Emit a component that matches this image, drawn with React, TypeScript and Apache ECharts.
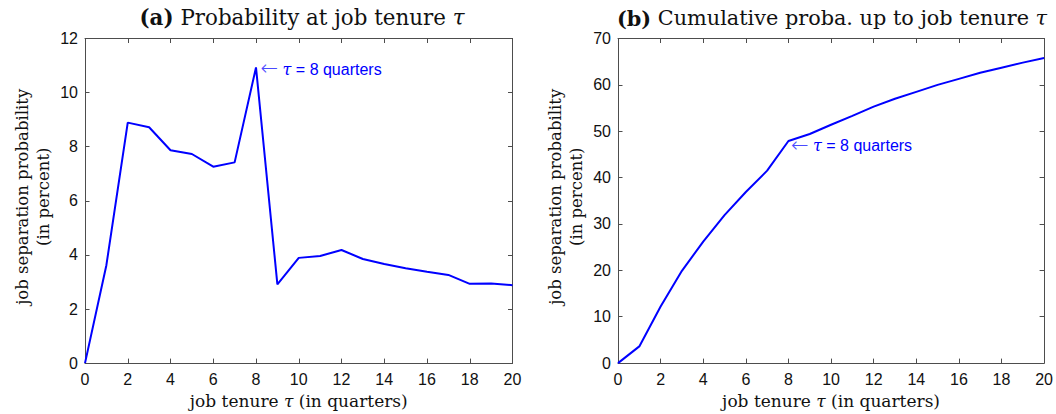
import React, { useEffect, useRef } from 'react';
import * as echarts from 'echarts';

// job tenure in quarters
const tenure = [0, 1, 2, 3, 4, 5, 6, 7, 8, 9, 10, 11, 12, 13, 14, 15, 16, 17, 18, 19, 20];
// (a) job separation probability at tenure (percent)
const sepProb = [0, 3.62, 8.89, 8.72, 7.87, 7.73, 7.26, 7.42, 10.93, 2.91, 3.89, 3.96, 4.18, 3.85, 3.66, 3.51, 3.38, 3.26, 2.93, 2.94, 2.88];
// (b) cumulative separation probability up to tenure (percent)
const cumProb = [0, 3.6, 12.2, 19.9, 26.2, 31.9, 36.9, 41.5, 47.9, 49.4, 51.4, 53.3, 55.3, 57.0, 58.5, 60.0, 61.3, 62.6, 63.7, 64.8, 65.8];

const titles = ['{b|(a)} Probability at job tenure {i|τ}', '{b|(b)} Cumulative proba. up to job tenure {i|τ}'];
const yName = 'job separation probability\n(in percent)';
const xName = 'job tenure {i|τ} (in quarters)';
const annotation = '{a|←} {i|τ} = 8 quarters';
const markIndex = 8;

const serif = 'DejaVu Serif';
const sans = 'Liberation Sans';
const axisColor = '#4d4d4d';
const textColor = '#111111';
const lineColor = '#0000ff';

const tickStyle = { show: true, inside: true, length: 4.5, lineStyle: { color: axisColor, width: 1 } };
const lineStyleAxis = { show: true, onZero: false, lineStyle: { color: axisColor, width: 1 } };

function makeXAxes(gridIndex: number) {
  return [
    {
      type: 'value', gridIndex, min: 0, max: 20, interval: 2, position: 'bottom',
      name: xName, nameLocation: 'middle', nameGap: 28,
      nameTextStyle: {
        fontFamily: serif, fontSize: 17, color: textColor,
        rich: { i: { fontFamily: serif, fontSize: 17, fontStyle: 'italic', color: textColor } },
      },
      axisLine: lineStyleAxis, axisTick: tickStyle, splitLine: { show: false },
      axisLabel: { fontFamily: sans, fontSize: 16, color: textColor, margin: 8 },
    },
    {
      type: 'value', gridIndex, min: 0, max: 20, interval: 2, position: 'top',
      axisLine: lineStyleAxis, axisTick: tickStyle, splitLine: { show: false },
      axisLabel: { show: false },
    },
  ];
}

function makeYAxes(gridIndex: number, max: number, interval: number) {
  return [
    {
      type: 'value', gridIndex, min: 0, max, interval, position: 'left',
      name: yName, nameLocation: 'middle', nameRotate: 90, nameGap: 31,
      nameTextStyle: { fontFamily: serif, fontSize: 16.5, color: textColor, lineHeight: 21, padding: [0, 0, 0, 8] },
      axisLine: lineStyleAxis, axisTick: tickStyle, splitLine: { show: false },
      axisLabel: { fontFamily: sans, fontSize: 16, color: textColor, margin: 7 },
    },
    {
      type: 'value', gridIndex, min: 0, max, interval, position: 'right',
      axisLine: lineStyleAxis, axisTick: tickStyle, splitLine: { show: false },
      axisLabel: { show: false },
    },
  ];
}

function makeSeries(idx: number, values: number[], offset: number[], distance: number) {
  return {
    type: 'line',
    xAxisIndex: idx * 2,
    yAxisIndex: idx * 2,
    data: tenure.map((t, i) => [t, values[i]]),
    showSymbol: false,
    symbol: 'none',
    lineStyle: { color: lineColor, width: 2 },
    z: 3,
    markPoint: {
      symbol: 'circle',
      symbolSize: 1,
      itemStyle: { color: 'rgba(0,0,0,0)' },
      data: [{ coord: [tenure[markIndex], values[markIndex]] }],
      label: {
        show: true,
        position: 'right',
        distance,
        offset,
        formatter: annotation,
        fontFamily: sans,
        fontSize: 16,
        color: lineColor,
        align: 'left',
        verticalAlign: 'middle',
        rich: {
          i: { fontFamily: serif, fontStyle: 'italic', fontSize: 16, color: lineColor },
          a: { fontFamily: 'DejaVu Sans', fontSize: 21, fontWeight: 200, color: '#4a4aff', padding: [0, 0, 2, 0] },
        },
      },
    },
  };
}

function titleStyle(fs: number) {
  return {
    fontFamily: serif, fontSize: fs, fontWeight: 'normal', color: textColor,
    rich: {
      b: { fontFamily: serif, fontSize: fs, fontWeight: 'bold', color: textColor },
      i: { fontFamily: serif, fontSize: fs, fontStyle: 'italic', color: textColor },
    },
  };
}

export default function App() {
  const ref = useRef<HTMLDivElement>(null);
  useEffect(() => {
    document.body.style.margin = '0';
    const chart = echarts.init(ref.current!, undefined, { renderer: 'svg' });
    chart.setOption({
      animation: false,
      backgroundColor: '#ffffff',
      title: [
        { text: titles[0], left: 297, top: 2, textAlign: 'center', textStyle: titleStyle(21.4) },
        { text: titles[1], left: 827, top: 2.5, textAlign: 'center', textStyle: titleStyle(20.8) },
      ],
      grid: [
        { left: 85, top: 38.5, width: 427.5, height: 325 },
        { left: 618, top: 38.5, width: 427, height: 325 },
      ],
      xAxis: [...makeXAxes(0), ...makeXAxes(1)],
      yAxis: [...makeYAxes(0, 12, 2), ...makeYAxes(1, 70, 10)],
      series: [
        makeSeries(0, sepProb, [0, 2], 4),
        makeSeries(1, cumProb, [0, 5], 2),
      ],
    });
    return () => chart.dispose();
  }, []);
  return <div ref={ref} style={{ width: 1056, height: 414 }} />;
}
